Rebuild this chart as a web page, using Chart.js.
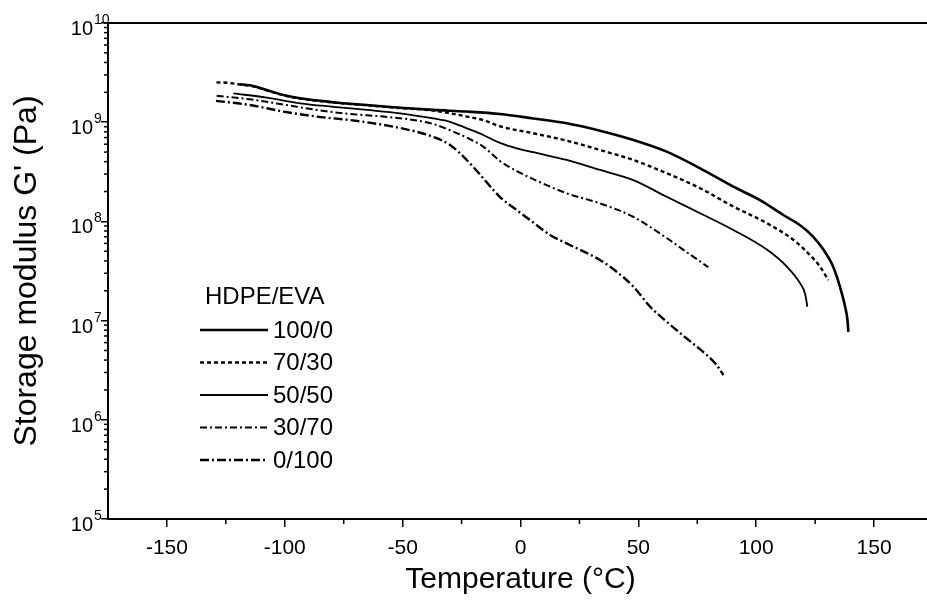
<!DOCTYPE html>
<html><head><meta charset="utf-8">
<script src="https://cdn.jsdelivr.net/npm/chart.js@4/dist/chart.umd.min.js"></script>
<style>html,body{margin:0;padding:0;overflow:hidden;background:#fff}</style>
</head><body>
<canvas id="c" width="940" height="601"></canvas>
<script>
const FONT = "'Liberation Sans', Arial, sans-serif";
const seriesNames = ['100/0', '70/30', '50/50', '30/70', '0/100'];
const legendTitle = 'HDPE/EVA';
const xTickValues = [-150, -100, -50, 0, 50, 100, 150];
const xMinorValues = [-125, -75, -25, 25, 75, 125];
const yTickValues = [1e5, 1e6, 1e7, 1e8, 1e9, 1e10];

const temp_100_0 = [-119, -113.4, -107.7, -100.6, -93.5, -79.4, -65.2, -51.1, -37, -22.8, -8.7, 5.4, 19.6, 33.7, 47.9, 62, 76.2, 90.3, 101.6, 111.5, 118.5, 124.2, 128.5, 132, 134.2, 136.3, 137.7, 138.7, 139.1];
const G_100_0 = [2.41e9, 2.32e9, 2.11e9, 1.88e9, 1.74e9, 1.59e9, 1.49e9, 1.40e9, 1.33e9, 1.28e9, 1.21e9, 1.09e9, 9.75e8, 8.21e8, 6.62e8, 5.05e8, 3.43e8, 2.24e8, 1.64e8, 1.16e8, 9.2e7, 7.0e7, 5.2e7, 3.78e7, 2.77e7, 1.88e7, 1.39e7, 1.02e7, 7.7e6];

const temp_70_30 = [-129, -124.6, -119, -113.4, -107.7, -100.6, -93.5, -79.4, -65.2, -51.1, -37, -29.9, -22.8, -15.8, -8.7, 5.4, 19.6, 33.7, 47.9, 62, 76.2, 90.3, 104.5, 115.8, 122.8, 127.1, 130.6];
const G_70_30 = [2.52e9, 2.50e9, 2.40e9, 2.30e9, 2.10e9, 1.87e9, 1.73e9, 1.58e9, 1.48e9, 1.39e9, 1.31e9, 1.23e9, 1.14e9, 1.05e9, 9.1e8, 7.73e8, 6.52e8, 5.25e8, 4.16e8, 3.06e8, 2.16e8, 1.41e8, 9.6e7, 6.5e7, 4.58e7, 3.49e7, 2.56e7];

const temp_50_50 = [-121.8, -107.7, -93.5, -79.4, -65.2, -51.1, -37, -29.9, -22.8, -15.8, -8.7, -1.6, 5.4, 19.6, 33.7, 47.9, 62, 76.2, 90.3, 104.5, 113, 118.6, 120.7, 121.7];
const G_50_50 = [1.95e9, 1.77e9, 1.55e9, 1.43e9, 1.33e9, 1.23e9, 1.09e9, 1.01e9, 8.68e8, 7.43e8, 6.2e8, 5.46e8, 4.98e8, 4.16e8, 3.30e8, 2.61e8, 1.77e8, 1.21e8, 8.2e7, 5.2e7, 3.5e7, 2.38e7, 1.88e7, 1.38e7];

const temp_30_70 = [-128.9, -114.8, -100.6, -86.5, -72.3, -58.2, -44, -37, -29.9, -22.8, -15.8, -8.7, -1.6, 5.4, 19.6, 33.7, 47.9, 62, 70.5, 76.2, 79.7];
const G_30_70 = [1.85e9, 1.70e9, 1.51e9, 1.33e9, 1.21e9, 1.14e9, 1.04e9, 9.6e8, 8.3e8, 7.0e8, 5.67e8, 4.06e8, 3.22e8, 2.67e8, 1.92e8, 1.52e8, 1.11e8, 6.8e7, 4.9e7, 3.95e7, 3.45e7];

const temp_0_100 = [-129.2, -114.8, -100.6, -86.5, -72.3, -58.2, -44, -37, -29.9, -22.8, -15.8, -11.5, -8.7, -1.6, 5.4, 12.5, 19.6, 33.7, 40.8, 47.9, 55, 62, 70.5, 79, 83.2, 86.1];
const G_0_100 = [1.64e9, 1.49e9, 1.28e9, 1.14e9, 1.05e9, 9.4e8, 8.0e8, 7.1e8, 5.9e8, 4.16e8, 2.72e8, 2.07e8, 1.76e8, 1.30e8, 9.75e7, 7.3e7, 6.0e7, 4.08e7, 3.11e7, 2.20e7, 1.38e7, 9.75e6, 6.6e6, 4.5e6, 3.56e6, 2.83e6];

const temps = [temp_100_0, temp_70_30, temp_50_50, temp_30_70, temp_0_100];
const moduli = [G_100_0, G_70_30, G_50_50, G_30_70, G_0_100];
const styles = [
  {borderWidth: 2.6, borderDash: []},
  {borderWidth: 2.4, borderDash: [4, 3]},
  {borderWidth: 1.8, borderDash: []},
  {borderWidth: 2.0, borderDash: [7, 3, 2, 3]},
  {borderWidth: 2.4, borderDash: [9, 3, 2, 3]}
];

const datasets = seriesNames.map((name, i) => ({
  label: name,
  data: temps[i].map((t, j) => ({x: t, y: moduli[i][j]})),
  borderColor: '#000',
  borderWidth: styles[i].borderWidth,
  borderDash: styles[i].borderDash,
  pointRadius: 0,
  fill: false,
  cubicInterpolationMode: 'monotone'
}));

const deco = {
  id: 'deco',
  afterDraw(chart) {
    const {ctx, chartArea: a, scales: {x, y}} = chart;
    ctx.save();
    ctx.strokeStyle = '#000';
    ctx.fillStyle = '#000';
    ctx.lineWidth = 2;
    ctx.setLineDash([]);
    ctx.beginPath(); ctx.moveTo(a.left, a.top); ctx.lineTo(a.right, a.top); ctx.stroke();
    ctx.lineWidth = 1.5;
    xMinorValues.forEach(v => {
      const px = x.getPixelForValue(v);
      ctx.beginPath(); ctx.moveTo(px, a.bottom); ctx.lineTo(px, a.bottom + 5); ctx.stroke();
    });
    for (let e = 5; e < 10; e++) {
      for (let m = 2; m < 10; m++) {
        const py = y.getPixelForValue(m * Math.pow(10, e));
        ctx.beginPath(); ctx.moveTo(a.left, py); ctx.lineTo(a.left - 4, py); ctx.stroke();
      }
    }
    yTickValues.forEach(v => {
      const py = y.getPixelForValue(v);
      const e = Math.round(Math.log10(v));
      ctx.font = '20px ' + FONT;
      ctx.textAlign = 'right'; ctx.textBaseline = 'alphabetic';
      ctx.fillText('10', a.left - 15, py + 12);
      ctx.font = '14px ' + FONT;
      ctx.textAlign = 'left';
      ctx.fillText(String(e), a.left - 14, py + 1);
    });
    // legend
    ctx.font = '24px ' + FONT;
    ctx.textAlign = 'left'; ctx.textBaseline = 'middle';
    ctx.fillText(legendTitle, 205, 297);
    chart.data.datasets.forEach((ds, i) => {
      const ly = 330 + i * 32.5;
      ctx.lineWidth = ds.borderWidth;
      ctx.setLineDash(ds.borderDash);
      ctx.beginPath(); ctx.moveTo(200, ly); ctx.lineTo(268, ly); ctx.stroke();
      ctx.setLineDash([]);
      ctx.fillText(ds.label, 273, ly + 1);
    });
    ctx.restore();
  }
};

new Chart(document.getElementById('c'), {
  type: 'line',
  data: {datasets},
  plugins: [deco],
  options: {
    responsive: false,
    animation: false,
    devicePixelRatio: 1,
    layout: {padding: {left: 0, top: 23, right: 7, bottom: 0}},
    plugins: {legend: {display: false}, tooltip: {enabled: false}},
    scales: {
      x: {
        type: 'linear', min: -175, max: 175,
        afterBuildTicks: s => { s.ticks = xTickValues.map(v => ({value: v})); },
        afterFit: s => { s.height = 82; },
        grid: {drawOnChartArea: false, drawTicks: true, tickLength: 8, color: '#000', lineWidth: 1.5},
        border: {display: true, color: '#000', width: 2},
        ticks: {color: '#000', font: {family: FONT, size: 21}, padding: 9, maxRotation: 0, autoSkip: false},
        title: {display: true, text: 'Temperature (°C)', color: '#000', font: {family: FONT, size: 30}, padding: {top: 0, bottom: 3}}
      },
      y: {
        type: 'logarithmic', min: 1e5, max: 1e10,
        afterBuildTicks: s => { s.ticks = yTickValues.map(v => ({value: v})); },
        afterFit: s => { s.width = 108; },
        grid: {drawOnChartArea: false, drawTicks: true, tickLength: 7, color: '#000', lineWidth: 1.5},
        border: {display: true, color: '#000', width: 2},
        ticks: {display: false},
        title: {display: true, text: "Storage modulus G' (Pa)", color: '#000', font: {family: FONT, size: 32}, padding: {top: 8, bottom: 0}}
      }
    }
  }
});
</script>
</body></html>
